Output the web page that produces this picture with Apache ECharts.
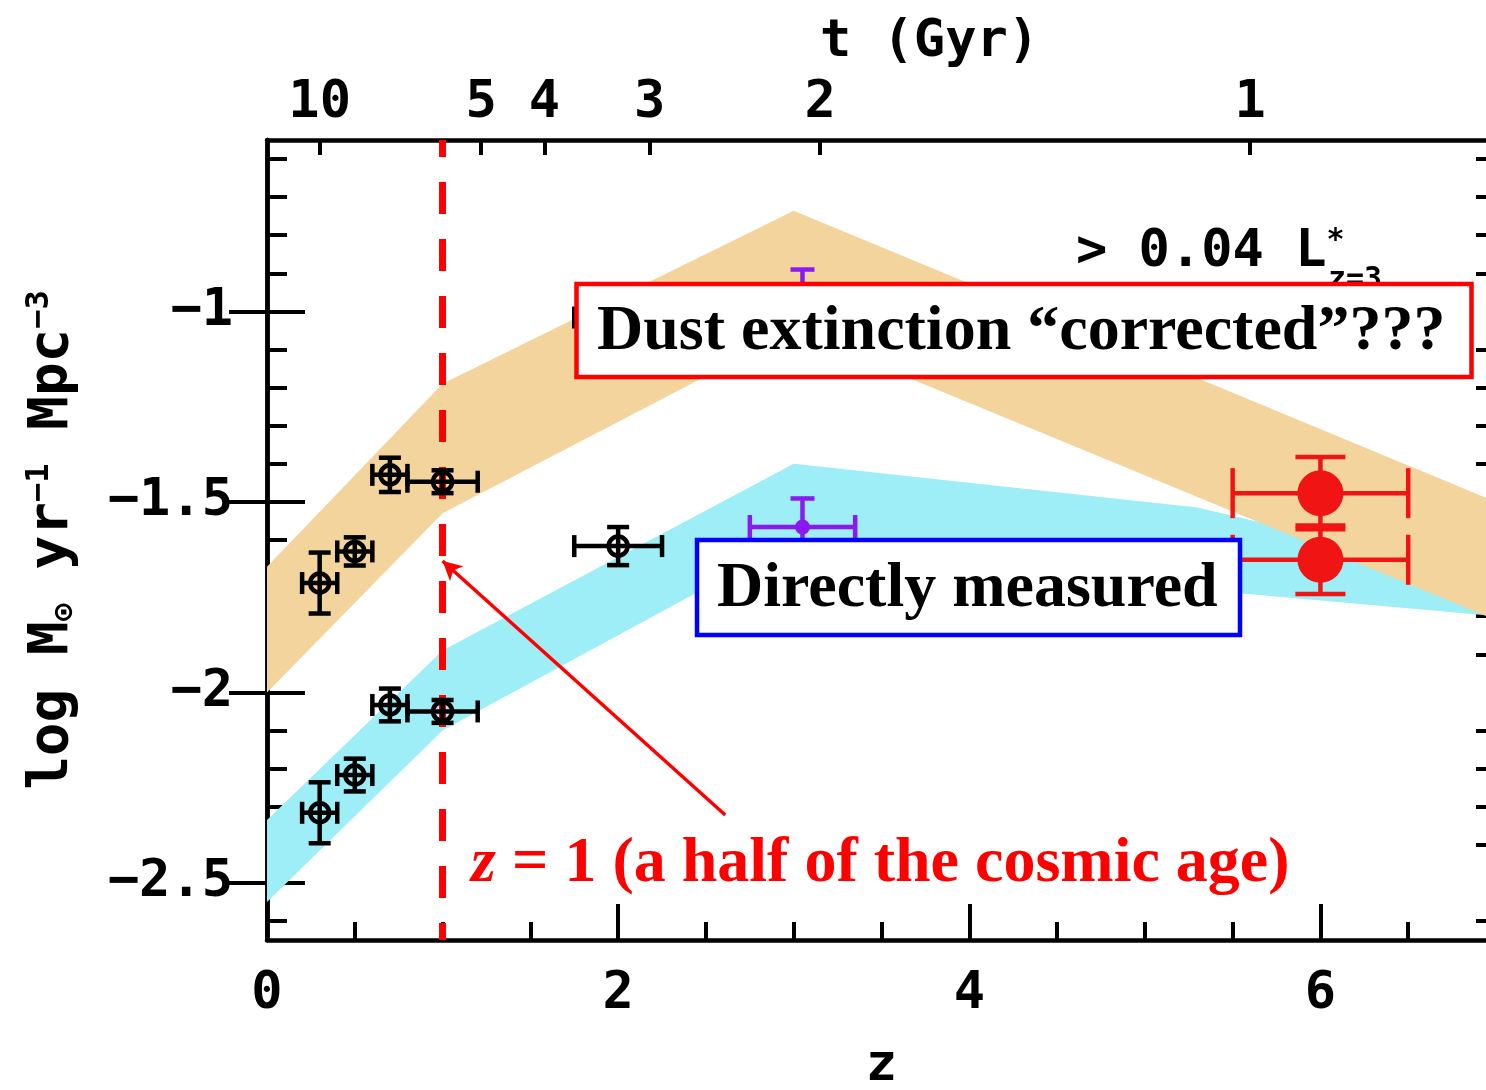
<!DOCTYPE html>
<html>
<head>
<meta charset="utf-8">
<script src="https://cdn.jsdelivr.net/npm/echarts@6/dist/echarts.min.js"></script>
<style>
  html, body { margin: 0; padding: 0; background: #ffffff; }
  #chart { width: 1486px; height: 1090px; }
</style>
</head>
<body>
<div id="chart"></div>
<script>
// ---- axis ticks ----
const zTicksMajor = [0, 2, 4, 6];
const zTicksMinor = [0.5, 1, 1.5, 2.5, 3, 3.5, 4.5, 5, 5.5, 6.5];
const sfrTicksMajor = [-2.5, -2, -1.5, -1];
const sfrTicksMinor = [-2.6, -2.4, -2.3, -2.2, -2.1, -1.9, -1.8, -1.7, -1.6,
                       -1.4, -1.3, -1.2, -1.1, -0.9, -0.8, -0.7, -0.6];
// cosmic age (Gyr) shown on the top axis, placed at the matching redshift
const ageTickZ = [0.3, 1.22, 1.58, 2.18, 3.15, 5.6];
const ageTickLabels = ['10', '5', '4', '3', '2', '1'];

// ---- model bands: log SFR density vs redshift ----
const correctedBandZ = [0, 1, 3, 7];
const correctedBandLow = [-2.0, -1.53, -1.05, -1.81];
const correctedBandHigh = [-1.67, -1.19, -0.736, -1.50];
const observedBandZ = [0, 1, 3, 5.3, 7];
const observedBandLow = [-2.55, -2.10, -1.60, -1.73, -1.80];
const observedBandHigh = [-2.335, -1.89, -1.40, -1.515, -1.70];

// ---- low-redshift measurements ----
const lowZ = [0.3, 0.5, 0.7, 1.0, 2.0];
const lowZErr = [0.1, 0.1, 0.1, 0.2, 0.25];
const lowObserved = [-2.316, -2.217, -2.033, -2.05, -1.616];
const lowObservedErr = [0.08, 0.043, 0.043, 0.03, 0.05];
const lowCorrected = [-1.713, -1.63, -1.429, -1.447, -1.016];
const lowCorrectedErr = [0.08, 0.037, 0.045, 0.03, 0.05];

// ---- z ~ 3 measurements ----
const lbgZ = [3.05, 3.05];
const lbgZErr = [0.3, 0.3];
const lbgSfr = [-1.566, -0.97];
const lbgSfrErr = [0.075, 0.08];

// ---- z ~ 6 measurements ----
const z6Z = [6.0, 6.0];
const z6ZErr = [0.5, 0.5];
const z6Sfr = [-1.477, -1.652];
const z6SfrErr = [0.095, 0.09];

// ---- annotation anchors (z, log SFR) ----
const halfAgeZ = 1;
const arrowTail = [2.61, -2.322];
const arrowTip = [1.0, -1.655];

const AXIS_FONT = '"DejaVu Sans Mono", monospace';
const SERIF = '"Liberation Serif", "Times New Roman", serif';
const RED = '#ff0000';

function bandSeries(zArr, lowArr, highArr, color, zIndex) {
  return {
    type: 'custom', silent: true, z: zIndex, xAxisIndex: 0, yAxisIndex: 0,
    data: zArr.map((z, i) => [z, lowArr[i], highArr[i]]),
    encode: { x: 0, y: [1, 2] },
    renderItem(params, api) {
      if (params.dataIndex !== 0) return null;
      const top = zArr.map((z, i) => api.coord([z, highArr[i]]));
      const bottom = zArr.map((z, i) => api.coord([z, lowArr[i]])).reverse();
      return { type: 'polygon', shape: { points: top.concat(bottom) }, style: { fill: color } };
    }
  };
}

function errorBarSeries(zArr, zErr, yArr, yErr, color, width, cap, zIndex) {
  return {
    type: 'custom', silent: true, z: zIndex, xAxisIndex: 0, yAxisIndex: 0,
    data: zArr.map((z, i) => [z, yArr[i], z - zErr[i], z + zErr[i], yArr[i] - yErr[i], yArr[i] + yErr[i]]),
    encode: { x: [0, 2, 3], y: [1, 4, 5] },
    renderItem(params, api) {
      const c = api.coord([api.value(0), api.value(1)]);
      const l = api.coord([api.value(2), api.value(1)]);
      const r = api.coord([api.value(3), api.value(1)]);
      const b = api.coord([api.value(0), api.value(4)]);
      const t = api.coord([api.value(0), api.value(5)]);
      const style = { stroke: color, lineWidth: width, fill: null };
      const seg = (x1, y1, x2, y2) => ({ type: 'line', shape: { x1, y1, x2, y2 }, style });
      return {
        type: 'group',
        children: [
          seg(l[0], c[1], r[0], c[1]),
          seg(c[0], b[1], c[0], t[1]),
          seg(l[0], c[1] - cap, l[0], c[1] + cap),
          seg(r[0], c[1] - cap, r[0], c[1] + cap),
          seg(c[0] - cap, b[1], c[0] + cap, b[1]),
          seg(c[0] - cap, t[1], c[0] + cap, t[1])
        ]
      };
    }
  };
}

const labelText = { fontFamily: AXIS_FONT, fontWeight: 'bold', fontSize: 52, color: '#000' };
const axisLine = { show: true, lineStyle: { color: '#000', width: 4.5 } };
const noLine = { show: false };

const chart = echarts.init(document.getElementById('chart'), null, { renderer: 'canvas' });

chart.setOption({
  animation: false,
  backgroundColor: '#ffffff',
  grid: { left: 267, right: -10, top: 140, bottom: 150, containLabel: false, outerBoundsMode: 'none' },
  xAxis: [
    {
      type: 'value', position: 'bottom', min: 0, max: 7,
      axisLine: axisLine, splitLine: { show: false },
      axisTick: { show: true, inside: true, length: 36, customValues: zTicksMajor, lineStyle: { width: 4, color: '#000' } },
      axisLabel: { show: true, customValues: zTicksMajor, margin: 28, ...labelText },
      name: 'z', nameLocation: 'middle', nameGap: 100,
      nameTextStyle: { ...labelText }
    },
    {
      type: 'value', position: 'bottom', min: 0, max: 7, offset: 0,
      axisLine: noLine, splitLine: { show: false }, axisLabel: { show: false },
      axisTick: { show: true, inside: true, length: 18, customValues: zTicksMinor, lineStyle: { width: 4, color: '#000' } }
    },
    {
      type: 'value', position: 'top', min: 0, max: 7,
      axisLine: axisLine, splitLine: { show: false },
      axisTick: { show: true, inside: true, length: 15, customValues: ageTickZ, lineStyle: { width: 4, color: '#000' } },
      axisLabel: {
        show: true, customValues: ageTickZ, margin: 11, ...labelText,
        formatter: (v) => {
          const i = ageTickZ.findIndex((a) => Math.abs(a - v) < 1e-6);
          return i >= 0 ? ageTickLabels[i] : '';
        }
      },
      name: 't (Gyr)', nameLocation: 'middle', nameGap: 72,
      nameTextStyle: { ...labelText, padding: [0, 0, 0, 96] }
    }
  ],
  yAxis: [
    {
      type: 'value', position: 'left', min: -2.65, max: -0.55, offset: 0,
      axisLine: axisLine, splitLine: { show: false },
      axisTick: { show: true, inside: true, length: 38, customValues: sfrTicksMajor, lineStyle: { width: 4, color: '#000' } },
      axisLabel: {
        show: true, customValues: sfrTicksMajor, margin: 34, ...labelText,
        formatter: (v) => String(v).replace('-', '\u2212')
      },
      name: '{a|log M}{s|\u2299}{a| yr}{p|\u22121}{a| Mpc}{p|\u22123}',
      nameLocation: 'middle', nameRotate: 90, nameGap: 187,
      nameTextStyle: {
        ...labelText, fontSize: 56,
        rich: {
          a: { fontFamily: AXIS_FONT, fontWeight: 'bold', fontSize: 56, lineHeight: 56, color: '#000' },
          s: { fontFamily: AXIS_FONT, fontWeight: 'bold', fontSize: 30, lineHeight: 30, verticalAlign: 'bottom', color: '#000' },
          p: { fontFamily: AXIS_FONT, fontWeight: 'bold', fontSize: 32, lineHeight: 32, verticalAlign: 'top', color: '#000' }
        }
      }
    },
    {
      type: 'value', position: 'left', min: -2.65, max: -0.55, offset: 0,
      axisLine: noLine, splitLine: { show: false }, axisLabel: { show: false },
      axisTick: { show: true, inside: true, length: 20, customValues: sfrTicksMinor, lineStyle: { width: 4, color: '#000' } }
    },
    {
      type: 'value', position: 'right', min: -2.65, max: -0.55, offset: 0,
      axisLine: axisLine, splitLine: { show: false }, axisLabel: { show: false },
      axisTick: { show: true, inside: true, length: 38, customValues: sfrTicksMajor, lineStyle: { width: 4, color: '#000' } }
    },
    {
      type: 'value', position: 'right', min: -2.65, max: -0.55, offset: 0,
      axisLine: noLine, splitLine: { show: false }, axisLabel: { show: false },
      axisTick: { show: true, inside: true, length: 20, customValues: sfrTicksMinor, lineStyle: { width: 4, color: '#000' } }
    }
  ],
  series: [
    bandSeries(observedBandZ, observedBandLow, observedBandHigh, '#9deef6', 1),
    bandSeries(correctedBandZ, correctedBandLow, correctedBandHigh, '#f3d49c', 2),

    errorBarSeries(lowZ, lowZErr, lowObserved, lowObservedErr, '#000', 4.5, 11, 5),
    errorBarSeries(lowZ, lowZErr, lowCorrected, lowCorrectedErr, '#000', 4.5, 11, 5),
    {
      type: 'scatter', silent: true, z: 6, xAxisIndex: 0, yAxisIndex: 0,
      symbol: 'circle', symbolSize: 19,
      itemStyle: { color: 'rgba(0,0,0,0)', borderColor: '#000', borderWidth: 4.5, opacity: 1 },
      data: lowZ.map((z, i) => [z, lowObserved[i]]).concat(lowZ.map((z, i) => [z, lowCorrected[i]]))
    },

    errorBarSeries(lbgZ, lbgZErr, lbgSfr, lbgSfrErr, '#8a1af0', 4.5, 12, 5),
    {
      type: 'scatter', silent: true, z: 6, xAxisIndex: 0, yAxisIndex: 0,
      symbol: 'circle', symbolSize: 15, itemStyle: { color: '#8a1af0', opacity: 1 },
      data: lbgZ.map((z, i) => [z, lbgSfr[i]])
    },

    errorBarSeries(z6Z, z6ZErr, z6Sfr, z6SfrErr, '#f01414', 4.5, 25, 5),
    {
      type: 'scatter', silent: true, z: 6, xAxisIndex: 0, yAxisIndex: 0,
      symbol: 'circle', symbolSize: 46, itemStyle: { color: '#f01414', opacity: 1 },
      data: z6Z.map((z, i) => [z, z6Sfr[i]])
    },

    {
      type: 'scatter', silent: true, z: 20, xAxisIndex: 0, yAxisIndex: 0, data: [],
      markLine: {
        silent: true, animation: false, symbol: ['none', 'none'],
        label: { show: false },
        data: [
          { xAxis: halfAgeZ, lineStyle: { color: RED, width: 7, type: [32, 25], dashOffset: 15 } },
          [
            { coord: arrowTail, symbol: 'none', lineStyle: { color: RED, width: 3.5, type: 'solid' } },
            { coord: arrowTip, symbol: 'arrow', symbolSize: [15, 19] }
          ]
        ]
      }
    }
  ],
  graphic: [
    {
      type: 'text', z: 50, silent: true, x: 1076, y: 252,
      style: {
        text: '{a|> 0.04 L}{p|*}',
        verticalAlign: 'middle',
        rich: {
          a: { fontFamily: AXIS_FONT, fontWeight: 'bold', fontSize: 52, lineHeight: 52, fill: '#000' },
          p: { fontFamily: AXIS_FONT, fontWeight: 'bold', fontSize: 30, lineHeight: 30, verticalAlign: 'top', fill: '#000' }
        }
      }
    },
    {
      type: 'text', z: 50, silent: true, x: 1328, y: 265,
      style: {
        text: 'z=3', fontFamily: AXIS_FONT, fontWeight: 'bold', fontSize: 30,
        fill: '#000', verticalAlign: 'top', align: 'left'
      }
    },
    {
      type: 'rect', z: 100, silent: true,
      shape: { x: 576.5, y: 284, width: 895, height: 93 },
      style: { fill: '#ffffff', stroke: RED, lineWidth: 4.5 }
    },
    {
      type: 'text', z: 101, silent: true, x: 597, y: 332,
      style: {
        text: 'Dust extinction \u201ccorrected\u201d???',
        font: 'bold 64px ' + SERIF, fill: '#000', verticalAlign: 'middle', align: 'left'
      }
    },
    {
      type: 'rect', z: 100, silent: true,
      shape: { x: 697, y: 540, width: 543, height: 95 },
      style: { fill: '#ffffff', stroke: '#0000ff', lineWidth: 4.5 }
    },
    {
      type: 'text', z: 101, silent: true, x: 717, y: 589,
      style: {
        text: 'Directly measured',
        font: 'bold 64px ' + SERIF, fill: '#000', verticalAlign: 'middle', align: 'left'
      }
    },
    {
      type: 'text', z: 101, silent: true, x: 471, y: 864,
      style: {
        text: '{i|z}{n| = 1 (a half of the cosmic age)}',
        verticalAlign: 'middle', align: 'left',
        rich: {
          i: { fontFamily: SERIF, fontWeight: 'bold', fontStyle: 'italic', fontSize: 64, fill: RED },
          n: { fontFamily: SERIF, fontWeight: 'bold', fontSize: 64, fill: RED }
        }
      }
    }
  ]
});
</script>
</body>
</html>
